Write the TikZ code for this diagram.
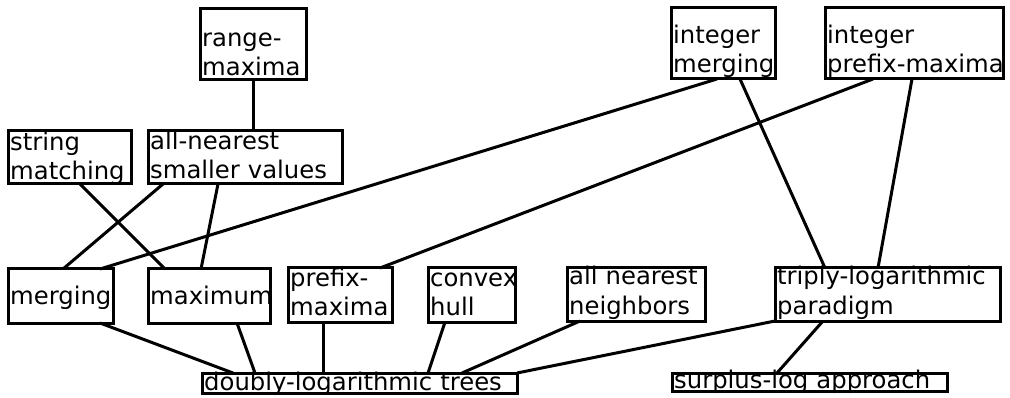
\documentclass[tikz,border=0pt]{standalone}
\usepackage{fontspec}
\setmainfont{DejaVu Sans}
\begin{document}
\begin{tikzpicture}[x=1pt,y=-1pt,
  box/.style={draw, line width=3pt, anchor=north west, inner sep=0pt, outer sep=0pt},
  lbl/.style={anchor=base west, inner sep=0pt, text width=400pt, align=left,
              font=\fontsize{24.3}{29}\selectfont},
  link/.style={line width=3pt}]
\useasboundingbox (0,0) rectangle (1010,398);

% boxes: top row
\node[box, minimum width=106pt, minimum height=71pt] (rm)   at (200,9)   {};
\node[box, minimum width=104pt, minimum height=71pt] (im)   at (671,8)   {};
\node[box, minimum width=178pt, minimum height=71pt] (ipm)  at (825,8)   {};
% second row
\node[box, minimum width=123pt, minimum height=53pt] (sm)   at (8,131)   {};
\node[box, minimum width=194pt, minimum height=53pt] (ansv) at (148,131) {};
% third row
\node[box, minimum width=105pt, minimum height=54pt] (mg)   at (8,269)   {};
\node[box, minimum width=122pt, minimum height=54pt] (mx)   at (148,269) {};
\node[box, minimum width=104pt, minimum height=54pt] (pm)   at (288,268) {};
\node[box, minimum width=87pt,  minimum height=54pt] (ch)   at (428,268) {};
\node[box, minimum width=138pt, minimum height=53pt] (ann)  at (567,268) {};
\node[box, minimum width=225pt, minimum height=53pt] (tl)   at (775,268) {};
% bottom row
\node[box, minimum width=315pt, minimum height=20pt] (dl)   at (202,373) {};
\node[box, minimum width=275pt, minimum height=18pt] (sl)   at (672,373) {};

% labels
\node[lbl] (rm-t)   at (202,47)  {range-\\maxima};
\node[lbl] (im-t)   at (673,44)  {integer\\merging};
\node[lbl] (ipm-t)  at (827,44)  {integer\\prefix-maxima};
\node[lbl] (sm-t)   at (10,151)  {string\\matching};
\node[lbl] (ansv-t) at (150,150) {all-nearest\\smaller values};
\node[lbl] (mg-t)   at (10,305)  {merging};
\node[lbl] (mx-t)   at (150,305) {maximum};
\node[lbl] (pm-t)   at (290,287) {prefix-\\maxima};
\node[lbl] (ch-t)   at (430,287) {convex\\hull};
\node[lbl] (ann-t)  at (569,285) {all nearest\\neighbors};
\node[lbl] (tl-t)   at (777,285) {triply-logarithmic\\paradigm};
\node[lbl] (dl-t)   at (204,390) {doubly-logarithmic trees};
\node[lbl] (sl-t)   at (674,388) {surplus-log approach};

% connectors
\draw[link] ([xshift=53pt]rm.south west)  -- ([xshift=105pt]ansv.north west);
\draw[link] ([xshift=72pt]sm.south west)  -- ([xshift=17pt]mx.north west);
\draw[link] ([xshift=15pt]ansv.south west) -- ([xshift=55pt]mg.north west);
\draw[link] ([xshift=70pt]ansv.south west) -- ([xshift=53pt]mx.north west);
\draw[link] ([xshift=46pt]im.south west)  -- ([xshift=92pt]mg.north west);
\draw[link] ([xshift=69pt]im.south west)  -- ([xshift=50pt]tl.north west);
\draw[link] ([xshift=48pt]ipm.south west) -- ([xshift=92pt]pm.north west);
\draw[link] ([xshift=87pt]ipm.south west) -- ([xshift=103pt]tl.north west);
\draw[link] ([xshift=92pt]mg.south west)  -- ([xshift=31pt]dl.north west);
\draw[link] ([xshift=89pt]mx.south west)  -- ([xshift=53pt]dl.north west);
\draw[link] ([xshift=35pt]pm.south west)  -- ([xshift=121pt]dl.north west);
\draw[link] ([xshift=17pt]ch.south west)  -- ([xshift=226pt]dl.north west);
\draw[link] ([xshift=13pt]ann.south west) -- ([xshift=260pt]dl.north west);
\draw[link] (tl.south west) -- (dl.north east);
\draw[link] ([xshift=48pt]tl.south west)  -- ([xshift=105pt]sl.north west);
\end{tikzpicture}
\end{document}
